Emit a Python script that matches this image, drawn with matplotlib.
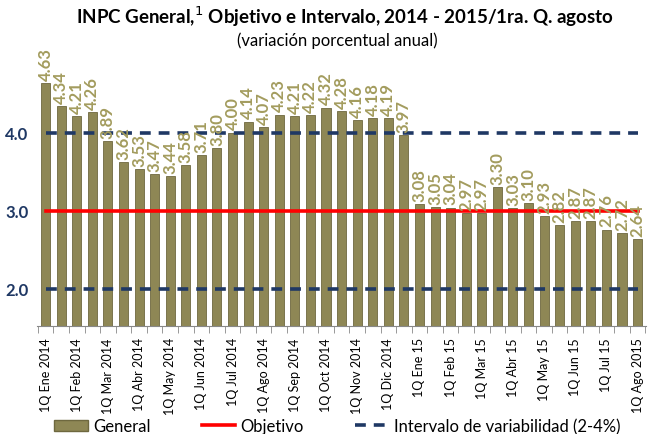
import numpy as np
import matplotlib.pyplot as plt
from matplotlib.lines import Line2D
from matplotlib.patches import Patch

plt.rcParams['font.family'] = ['Lato', 'DejaVu Sans']

# quincenal data, 1Q Ene 2014 .. 1Q Ago 2015
general = [4.63, 4.34, 4.21, 4.26, 3.89, 3.62, 3.53, 3.47, 3.44, 3.58, 3.71, 3.80,
           4.00, 4.14, 4.07, 4.23, 4.21, 4.22, 4.32, 4.28, 4.16, 4.18, 4.19, 3.97,
           3.08, 3.05, 3.04, 2.97, 2.97, 3.30, 3.03, 3.10, 2.93, 2.82, 2.87, 2.87,
           2.76, 2.72, 2.64]
tick_labels = ['1Q Ene 2014', '1Q Feb 2014', '1Q Mar 2014', '1Q Abr 2014', '1Q May 2014',
               '1Q Jun 2014', '1Q Jul 2014', '1Q Ago 2014', '1Q Sep 2014', '1Q Oct 2014',
               '1Q Nov 2014', '1Q Dic 2014', '1Q Ene 15', '1Q Feb 15', '1Q Mar 15',
               '1Q Abr 15', '1Q May 15', '1Q Jun 15', '1Q Jul 15', '1Q Ago 2015']
objetivo = 3.0
intervalo = [2.0, 4.0]

bar_col = '#8e8755'
lab_col = '#a39c5e'
navy = '#1f3864'

fig = plt.figure(figsize=(6.55, 4.35), dpi=100)
ax = fig.add_axes([0.0565, 0.248, 0.93, 0.65])

x = np.arange(len(general))
ax.bar(x, general, width=0.58, color=bar_col, edgecolor='#6e683f', linewidth=0.6, zorder=2)
for xi, v in zip(x, general):
    ax.text(xi, v + 0.04, f'{v:.2f}', rotation=90, ha='center', va='bottom',
            color=lab_col, fontsize=12, fontweight='bold', zorder=4)

ax.plot([x[0], x[-1]], [objetivo, objetivo], color='#ff0000', lw=2.6, zorder=3)
for lvl in intervalo:
    ax.plot([x[0], x[-1]], [lvl, lvl], color=navy, lw=2.6, ls=(0, (3, 2.2)), zorder=3)

ax.set_xlim(-0.55, len(general) - 0.45)
ax.set_ylim(1.525, 5.14)
ax.set_yticks([2.0, 3.0, 4.0])
ax.set_yticklabels(['2.0', '3.0', '4.0'], color=navy, fontsize=12, fontweight='bold')
ax.tick_params(axis='y', length=0, pad=6)

ax.set_xticks(x[::2])
ax.set_xticklabels(tick_labels, rotation=90, fontsize=9)
ax.set_xticks(np.arange(len(general) + 1) - 0.5, minor=True)
ax.tick_params(axis='x', which='major', length=0, pad=8)
ax.tick_params(axis='x', which='minor', length=5, color='#888888')
for s in ['top', 'right', 'left']:
    ax.spines[s].set_visible(False)
ax.spines['bottom'].set_color('#888888')

fig.text(0.527, 0.962, 'INPC General,$^{1}$ Objetivo e Intervalo, 2014 - 2015/1ra. Q. agosto',
         ha='center', va='center', fontsize=13.5, fontweight='bold')
fig.text(0.515, 0.906, '(variación porcentual anual)', ha='center', va='center', fontsize=12)

handles = [Patch(facecolor=bar_col, edgecolor='#6e683f'),
           Line2D([], [], color='#ff0000', lw=2.6),
           Line2D([], [], color=navy, lw=2.6, ls=(0, (3, 2.2)))]
fig.legend(handles, ['General', 'Objetivo', 'Intervalo de variabilidad (2-4%)'],
           loc='lower center', bbox_to_anchor=(0.515, -0.035), ncol=3, frameon=False,
           fontsize=12, handlelength=2.0, columnspacing=3.1, handletextpad=0.3)

fig.savefig('out.png', dpi=100)
